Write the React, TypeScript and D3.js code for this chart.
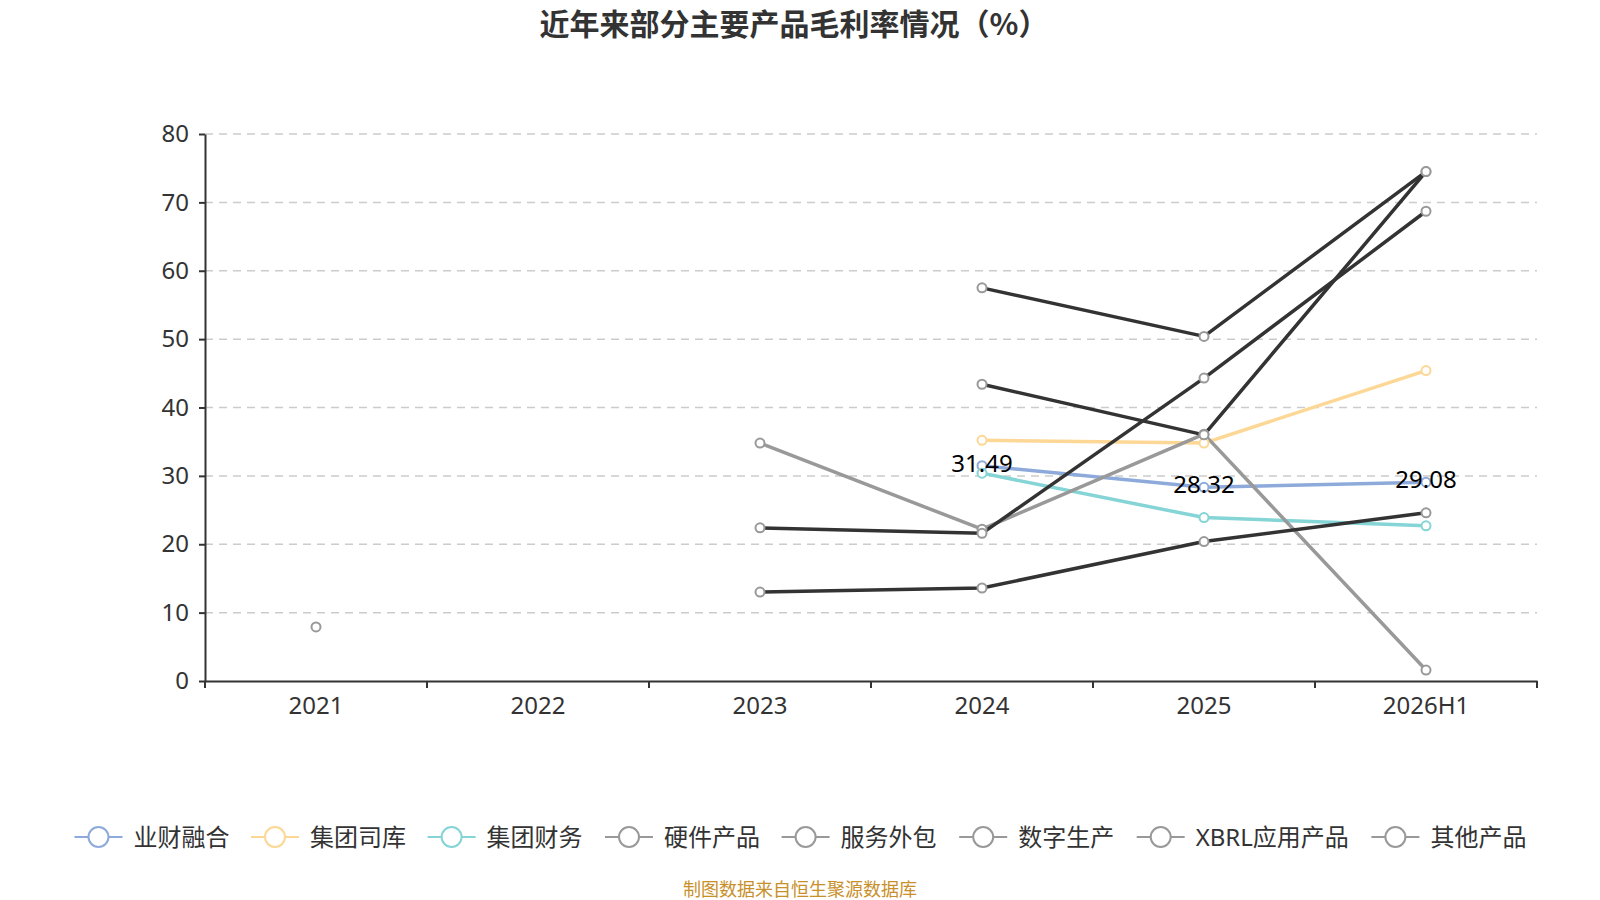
import * as d3 from 'd3';
import { useEffect, useRef } from 'react';

const years = ['2021', '2022', '2023', '2024', '2025', '2026H1'];
const yTicks = [0, 10, 20, 30, 40, 50, 60, 70, 80];

const names = ['业财融合', '集团司库', '集团财务', '硬件产品', '服务外包', '数字生产', 'XBRL应用产品', '其他产品'];
const lineColors = ['#8eaadb', '#fdd795', '#85d4d6', '#999999', '#333333', '#333333', '#333333', '#333333'];
const markerColors = ['#8eaadb', '#fdd795', '#85d4d6', '#999999', '#999999', '#999999', '#999999', '#999999'];

type V = number | null;
const yecai: V[] = [null, null, null, 31.49, 28.32, 29.08];
const siku: V[] = [null, null, null, 35.2, 34.8, 45.4];
const caiwu: V[] = [null, null, null, 30.4, 23.9, 22.7];
const yingjian: V[] = [7.9, null, 34.8, 22.2, 36.1, 1.6];
const waibao: V[] = [null, null, null, 57.5, 50.4, 74.5];
const shuzi: V[] = [null, null, null, 43.4, 36.0, 74.5];
const xbrl: V[] = [null, null, 22.4, 21.6, 44.3, 68.7];
const qita: V[] = [null, null, 13.0, 13.6, 20.4, 24.6];

const seriesValues = [yecai, siku, caiwu, yingjian, waibao, shuzi, xbrl, qita];
const labelSeries = [0];

export default function App() {
    const svgRef = useRef<SVGSVGElement>(null);

    useEffect(() => {
        if (!svgRef.current) return;
        const width = 1600;
        const height = 900;
        const pad = 8; // svg is pulled into the body margin so the title has room above
        const margin = { top: 126, right: 71, bottom: 227, left: 197 };
        const font = "'Noto Sans', 'Noto Sans CJK SC', sans-serif";

        const root = d3
            .select(svgRef.current)
            .attr('width', width + pad)
            .attr('height', height + pad)
            .style('display', 'block')
            .style('margin', `-${pad}px 0 0 -${pad}px`);
        root.selectAll('*').remove();
        const svg = root.append('g').attr('transform', `translate(${pad},${pad})`);

        const x = d3
            .scaleBand<string>()
            .domain(years)
            .range([margin.left, width - margin.right]);

        const y = d3
            .scaleLinear()
            .domain([0, 80])
            .range([height - margin.bottom, margin.top]);

        // title
        svg.append('text')
            .attr('x', 786)
            .attr('y', 27)
            .attr('text-anchor', 'middle')
            .attr('font-family', "'Noto Sans CJK SC', sans-serif")
            .attr('font-weight', 'bold')
            .attr('font-size', 30)
            .attr('fill', '#333')
            .text('近年来部分主要产品毛利率情况（%）');

        // grid
        svg.append('g')
            .selectAll('line')
            .data(yTicks.filter((t) => t > 0))
            .join('line')
            .attr('x1', margin.left)
            .attr('x2', width - margin.right)
            .attr('y1', (d) => y(d))
            .attr('y2', (d) => y(d))
            .attr('stroke', '#ccc')
            .attr('stroke-width', 1.5)
            .attr('stroke-dasharray', '8,6');

        // y axis
        const yAxis = svg
            .append('g')
            .attr('transform', `translate(${margin.left},0)`)
            .call(d3.axisLeft(y).tickValues(yTicks).tickSize(6).tickSizeOuter(0).tickPadding(10));
        yAxis.select('.domain').attr('stroke', '#333').attr('stroke-width', 2);
        yAxis.selectAll('.tick line').attr('stroke', '#333').attr('stroke-width', 2);
        yAxis.selectAll('text').attr('fill', '#333').attr('font-size', 24).attr('font-family', font);

        // x axis
        const xAxis = svg
            .append('g')
            .attr('transform', `translate(0,${height - margin.bottom})`)
            .call(d3.axisBottom(x).tickSize(0).tickSizeOuter(0).tickPadding(16));
        xAxis.select('.domain').attr('stroke', '#333').attr('stroke-width', 2);
        xAxis.selectAll('text').attr('fill', '#333').attr('font-size', 24).attr('font-family', font);

        const bounds = [...years.map((d) => x(d)!), width - margin.right];
        xAxis.selectAll('.bound')
            .data(bounds)
            .join('line')
            .attr('class', 'bound')
            .attr('x1', (d) => d)
            .attr('x2', (d) => d)
            .attr('y1', 0)
            .attr('y2', 7)
            .attr('stroke', '#333')
            .attr('stroke-width', 2);

        const cx = (i: number) => x(years[i])! + x.bandwidth() / 2;

        const line = d3
            .line<V>()
            .defined((d) => d !== null)
            .x((_, i) => cx(i))
            .y((d) => y(d as number));

        const plot = svg.append('g');
        seriesValues.forEach((vals, s) => {
            plot.append('path')
                .datum(vals)
                .attr('d', line)
                .attr('fill', 'none')
                .attr('stroke', lineColors[s])
                .attr('stroke-width', 3.5)
                .attr('stroke-linejoin', 'round');
        });
        seriesValues.forEach((vals, s) => {
            const pts = vals.map((v, i) => ({ v, i })).filter((p) => p.v !== null);
            plot.append('g')
                .selectAll('circle')
                .data(pts)
                .join('circle')
                .attr('cx', (p) => cx(p.i))
                .attr('cy', (p) => y(p.v as number))
                .attr('r', 4.5)
                .attr('fill', '#fff')
                .attr('stroke', markerColors[s])
                .attr('stroke-width', 2);
        });

        labelSeries.forEach((s) => {
            const pts = seriesValues[s].map((v, i) => ({ v, i })).filter((p) => p.v !== null);
            plot.append('g')
                .selectAll('text')
                .data(pts)
                .join('text')
                .attr('x', (p) => cx(p.i))
                .attr('y', (p) => y(p.v as number) + 6)
                .attr('text-anchor', 'middle')
                .attr('font-size', 24)
                .attr('font-family', font)
                .attr('fill', '#000')
                .text((p) => (p.v as number).toFixed(2));
        });

        // legend
        const legendX = [66.5, 243, 419.6, 597, 773.6, 951.2, 1128.7, 1363.4];
        const legend = svg
            .append('g')
            .selectAll('g')
            .data(names)
            .join('g')
            .attr('transform', (_, i) => `translate(${legendX[i]},829)`);
        legend.append('line')
            .attr('x1', 0)
            .attr('x2', 48)
            .attr('stroke', (_, i) => markerColors[i])
            .attr('stroke-width', 2);
        legend.append('circle')
            .attr('cx', 24)
            .attr('r', 10)
            .attr('fill', '#fff')
            .attr('stroke', (_, i) => markerColors[i])
            .attr('stroke-width', 2);
        legend.append('text')
            .attr('x', 59)
            .attr('y', 9)
            .attr('font-size', 24)
            .attr('font-family', font)
            .attr('fill', '#333')
            .text((d) => d);

        svg.append('text')
            .attr('x', 792)
            .attr('y', 888)
            .attr('text-anchor', 'middle')
            .attr('font-size', 18)
            .attr('font-family', "'Noto Sans CJK SC', sans-serif")
            .attr('fill', '#c8902a')
            .text('制图数据来自恒生聚源数据库');
    }, []);

    return <svg ref={svgRef} />;
}
